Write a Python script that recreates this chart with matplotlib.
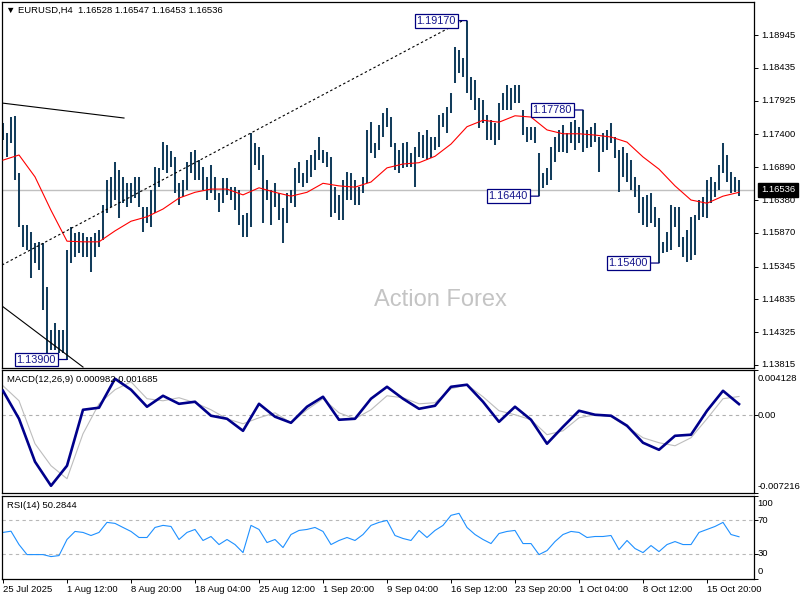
import matplotlib
matplotlib.use("Agg")
import matplotlib.pyplot as plt
import numpy as np

plt.rcParams['font.family'] = ['Liberation Sans', 'DejaVu Sans']

# ---------------- data (H4 bars, every second bar) ----------------
highs = [1.1758, 1.1742, 1.1767, 1.1769, 1.1680, 1.1599, 1.1599, 1.1588, 1.1571, 1.1573,
         1.1571, 1.1503, 1.1436, 1.1447, 1.1436, 1.1436, 1.1560, 1.1596, 1.1587, 1.1588,
         1.1587, 1.1580, 1.1580, 1.1587, 1.1591, 1.1630, 1.1669, 1.1674, 1.1697, 1.1685,
         1.1674, 1.1665, 1.1665, 1.1674, 1.1674, 1.1627, 1.1627, 1.1654, 1.1689, 1.1688,
         1.1728, 1.1723, 1.1714, 1.1705, 1.1665, 1.1669, 1.1697, 1.1713, 1.1716, 1.1700,
         1.1689, 1.1674, 1.1692, 1.1674, 1.1649, 1.1672, 1.1672, 1.1658, 1.1658, 1.1654,
         1.1615, 1.1618, 1.1742, 1.1727, 1.1720, 1.1708, 1.1669, 1.1654, 1.1665, 1.1649,
         1.1625, 1.1649, 1.1654, 1.1688, 1.1697, 1.1680, 1.1700, 1.1708, 1.1716, 1.1736,
         1.1716, 1.1713, 1.1705, 1.1658, 1.1646, 1.1669, 1.1682, 1.1680, 1.1669, 1.1658,
         1.1674, 1.1747, 1.1759, 1.1727, 1.1755, 1.1773, 1.1781, 1.1767, 1.1727, 1.1716,
         1.1727, 1.1728, 1.1711, 1.1720, 1.1744, 1.1739, 1.1747, 1.1736, 1.1736, 1.1770,
         1.1773, 1.1783, 1.1804, 1.1876, 1.1871, 1.1859, 1.1917, 1.1829, 1.1825, 1.1797,
         1.1794, 1.1770, 1.1762, 1.1758, 1.1789, 1.1804, 1.1817, 1.1812, 1.1817, 1.1817,
         1.1778, 1.1752, 1.1752, 1.1752, 1.1711, 1.1680, 1.1688, 1.1720, 1.1736, 1.1747,
         1.1755, 1.1742, 1.1759, 1.1762, 1.1752, 1.1778, 1.1747, 1.1752, 1.1758, 1.1736,
         1.1742, 1.1747, 1.1758, 1.1736, 1.1716, 1.1720, 1.1711, 1.1700, 1.1674, 1.1661,
         1.1643, 1.1646, 1.1649, 1.1627, 1.1610, 1.1573, 1.1588, 1.1630, 1.1627, 1.1627,
         1.1580, 1.1591, 1.1612, 1.1615, 1.1638, 1.1643, 1.1669, 1.1674, 1.1666, 1.1692,
         1.1727, 1.1708, 1.1682, 1.1674, 1.1669]
lows = [1.1731, 1.1705, 1.1727, 1.1669, 1.1596, 1.1565, 1.1560, 1.1517, 1.1540, 1.1529,
        1.1467, 1.1400, 1.1405, 1.1405, 1.1400, 1.1400, 1.1390, 1.1540, 1.1549, 1.1556,
        1.1549, 1.1549, 1.1526, 1.1549, 1.1565, 1.1576, 1.1618, 1.1627, 1.1638, 1.1610,
        1.1633, 1.1627, 1.1633, 1.1641, 1.1627, 1.1588, 1.1602, 1.1596, 1.1618, 1.1658,
        1.1685, 1.1680, 1.1689, 1.1649, 1.1630, 1.1643, 1.1654, 1.1680, 1.1669, 1.1669,
        1.1654, 1.1638, 1.1649, 1.1638, 1.1619, 1.1633, 1.1646, 1.1638, 1.1622, 1.1599,
        1.1581, 1.1581, 1.1596, 1.1692, 1.1685, 1.1602, 1.1638, 1.1599, 1.1627, 1.1607,
        1.1571, 1.1602, 1.1633, 1.1627, 1.1664, 1.1658, 1.1664, 1.1674, 1.1685, 1.1700,
        1.1696, 1.1689, 1.1612, 1.1618, 1.1607, 1.1607, 1.1638, 1.1638, 1.1630, 1.1630,
        1.1649, 1.1664, 1.1711, 1.1703, 1.1716, 1.1736, 1.1752, 1.1720, 1.1685, 1.1680,
        1.1688, 1.1689, 1.1689, 1.1658, 1.1705, 1.1703, 1.1700, 1.1703, 1.1716, 1.1720,
        1.1752, 1.1742, 1.1773, 1.1820, 1.1835, 1.1829, 1.1804, 1.1794, 1.1778, 1.1750,
        1.1758, 1.1731, 1.1731, 1.1723, 1.1731, 1.1778, 1.1778, 1.1778, 1.1789, 1.1789,
        1.1739, 1.1728, 1.1731, 1.1727, 1.1644, 1.1657, 1.1661, 1.1669, 1.1697, 1.1713,
        1.1713, 1.1711, 1.1727, 1.1716, 1.1727, 1.1713, 1.1719, 1.1720, 1.1728, 1.1682,
        1.1713, 1.1716, 1.1727, 1.1703, 1.1650, 1.1674, 1.1666, 1.1654, 1.1643, 1.1618,
        1.1599, 1.1596, 1.1602, 1.1596, 1.1540, 1.1556, 1.1557, 1.1560, 1.1596, 1.1565,
        1.1549, 1.1541, 1.1545, 1.1553, 1.1607, 1.1612, 1.1610, 1.1633, 1.1643, 1.1654,
        1.1680, 1.1666, 1.1649, 1.1650, 1.1645]

# moving average, MACD main / signal: one value every 4 plotted bars
ma_values = [1.1700, 1.1708, 1.1674, 1.1622, 1.1574, 1.1573, 1.1573, 1.1590, 1.1605, 1.1612,
             1.1624, 1.1641, 1.1650, 1.1655, 1.1655, 1.1646, 1.1657, 1.1650, 1.1644, 1.1650,
             1.1664, 1.1660, 1.1658, 1.1666, 1.1688, 1.1694, 1.1696, 1.1706, 1.1725, 1.1752,
             1.1762, 1.1759, 1.1769, 1.1767, 1.1747, 1.1741, 1.1741, 1.1739, 1.1736, 1.1728,
             1.1705, 1.1686, 1.1660, 1.1638, 1.1633, 1.1644, 1.1650]
macd_main = [0.00221, -0.00037, -0.00433, -0.00655, -0.00470, 0.00046, 0.00065, 0.00332, 0.00231, 0.00074,
             0.00175, 0.00101, 0.00120, -0.00009, -0.00037, -0.00148, 0.00101, -0.00018, -0.00074, 0.00074,
             0.00166, -0.00046, -0.00037, 0.00148, 0.00258, 0.00148, 0.00055, 0.00083, 0.00258, 0.00277,
             0.00120, -0.00065, 0.00074, -0.00046, -0.00267, -0.00111, 0.00037, 0.00000, -0.00009, -0.00101,
             -0.00258, -0.00323, -0.00194, -0.00184, 0.00037, 0.00221, 0.000982]
macd_signal = [0.00267, 0.00129, -0.00267, -0.00470, -0.00590, -0.00175, 0.00101, 0.00231, 0.00304, 0.00148,
               0.00129, 0.00157, 0.00111, 0.00046, -0.00037, -0.00083, -0.00028, 0.00018, -0.00074, 0.00046,
               0.00148, 0.00018, -0.00037, 0.00046, 0.00175, 0.00157, 0.00101, 0.00111, 0.00240, 0.00277,
               0.00166, 0.00037, 0.00000, -0.00046, -0.00184, -0.00148, -0.00028, 0.00000, -0.00018, -0.00111,
               -0.00212, -0.00258, -0.00286, -0.00212, -0.00037, 0.00148, 0.001685]
# RSI: one value every 2 plotted bars
rsi_values = [55.5, 57.0, 40.9, 28.8, 28.8, 28.8, 26.4, 27.6, 47.0, 56.7,
              55.5, 51.8, 55.5, 67.6, 66.4, 61.5, 56.7, 49.4, 49.4, 61.5,
              64.0, 62.7, 47.0, 55.5, 59.1, 45.8, 50.6, 40.9, 47.0, 40.9,
              31.2, 64.0, 59.1, 43.3, 47.0, 37.3, 53.0, 57.9, 59.1, 61.5,
              56.7, 40.9, 45.8, 49.4, 45.8, 53.0, 64.0, 67.6, 70.0, 51.8,
              48.2, 45.8, 57.9, 49.4, 57.9, 64.0, 76.1, 78.5, 61.5, 53.0,
              47.0, 42.1, 54.2, 56.7, 57.9, 42.1, 42.1, 28.8, 33.6, 44.5,
              53.0, 56.7, 55.5, 49.4, 50.6, 50.6, 51.8, 34.8, 45.8, 36.1,
              31.2, 39.7, 32.4, 40.9, 44.5, 40.9, 40.9, 55.5, 59.1, 62.7,
              67.6, 53.0, 50.3]

date_labels = ['25 Jul 2025', '1 Aug 12:00', '8 Aug 20:00', '18 Aug 04:00', '25 Aug 12:00',
               '1 Sep 20:00', '9 Sep 04:00', '16 Sep 12:00', '23 Sep 20:00', '1 Oct 04:00',
               '8 Oct 12:00', '15 Oct 20:00']
price_ticks = [1.18945, 1.18435, 1.17925, 1.17400, 1.16890, 1.16380, 1.15870, 1.15345,
               1.14835, 1.14325, 1.13815]
last_price = 1.16536
title_text = '\u25bc EURUSD,H4  1.16528 1.16547 1.16453 1.16536'

# swing labels: (bar, price, text)
swing_labels = [(116, 1.19170, '1.19170'), (145, 1.17780, '1.17780'), (134, 1.16440, '1.16440'),
                (164, 1.15400, '1.15400'), (16, 1.13900, '1.13900')]
# trend lines: (bar0, price0, bar1, price1, style)
trend_lines = [(-0.25, 1.17888, 30.25, 1.17655, '-'),
               (-0.25, 1.14732, 20.0, 1.13783, '-'),
               (-0.25, 1.15369, 114.75, 1.19163, 'dot')]

# ---------------- layout ----------------
W, H = 800, 600
fig = plt.figure(figsize=(8, 6), dpi=100)


def rect(x0, y0, x1, y1):
    return [x0 / W, 1 - y1 / H, (x1 - x0) / W, (y1 - y0) / H]


ax_p = fig.add_axes(rect(2, 2, 754, 368))
ax_m = fig.add_axes(rect(2, 370, 754, 493))
ax_r = fig.add_axes(rect(2, 495.5, 754, 578.5))

n = len(highs)
idx = np.arange(n)
xlim = (-0.25, 187.75)
FS = 6.8
bar_col = '#133d5c'

for ax in (ax_p, ax_m, ax_r):
    ax.set_xlim(*xlim)
    for s in ax.spines.values():
        s.set_linewidth(0.9)
        s.set_color('black')
    ax.yaxis.tick_right()
    ax.tick_params(axis='y', direction='out', length=3, width=0.7, labelright=False, labelleft=False)
    ax.set_facecolor('white')

# price panel
ax_p.set_ylim(1.13768, 1.19459)
ax_p.set_xticks([])
ax_p.axhline(last_price, color='#c0c0c0', lw=1.0, zorder=1)
ax_p.vlines(idx, lows, highs, colors=bar_col, lw=1.45, zorder=2)
ma_idx = np.arange(0, n, 4)
ax_p.plot(ma_idx, ma_values, color='#ff0000', lw=0.8, zorder=3)
for x0, y0, x1, y1, st in trend_lines:
    if st == 'dot':
        ax_p.plot([x0, x1], [y0, y1], color='black', lw=0.8, linestyle=(0, (2.2, 2.2)), zorder=3)
    else:
        ax_p.plot([x0, x1], [y0, y1], color='black', lw=0.8, zorder=3)
ax_p.set_yticks(price_ticks)
for v in price_ticks:
    ax_p.annotate('%.5f' % v, xy=(1, v), xycoords=('axes fraction', 'data'),
                  xytext=(5, 0), textcoords='offset points', ha='left', va='center',
                  fontsize=FS, annotation_clip=False)
ax_p.annotate('%.5f' % last_price, xy=(1, last_price), xycoords=('axes fraction', 'data'),
              xytext=(5, 0), textcoords='offset points', ha='left', va='center',
              fontsize=FS, color='white', annotation_clip=False,
              bbox=dict(boxstyle='square,pad=0.28', fc='black', ec='black'))
for b, p, t in swing_labels:
    ax_p.annotate(t, xy=(b, p), xytext=(-8, 0), textcoords='offset points',
                  ha='right', va='center', fontsize=7.8, color='#15158c',
                  bbox=dict(boxstyle='square,pad=0.18', fc='white', ec='#000080', lw=0.9),
                  arrowprops=dict(arrowstyle='-', color='#000080', lw=0.9, shrinkA=0, shrinkB=0),
                  zorder=5)
ax_p.text((440 - 2) / 752, (368 - 300) / 366, 'Action Forex', transform=ax_p.transAxes,
          ha='center', va='center', fontsize=17, color='#c4c4c4', zorder=0)
fig.text(6 / W, 1 - 10 / H, title_text, fontsize=FS, va='center', ha='left')

# MACD panel
ax_m.set_ylim(-0.007216, 0.004128)
ax_m.set_xticks([])
ax_m.axhline(0, color='#b0b0b0', lw=0.8, linestyle=(0, (3, 3)), zorder=1)
ax_m.plot(ma_idx, macd_signal, color='#bdbdbd', lw=0.8, zorder=2)
ax_m.plot(ma_idx, macd_main, color='#00008b', lw=1.9, zorder=3)
ax_m.set_yticks([0.004128, 0.0, -0.007216])
for v, t, dy in [(0.004128, '0.004128', -6), (0.0, '0.00', -0.8), (-0.007216, '-0.007216', 5)]:
    ax_m.annotate(t, xy=(1, v), xycoords=('axes fraction', 'data'), xytext=(2.6, dy),
                  textcoords='offset points', ha='left', va='center', fontsize=FS,
                  annotation_clip=False)
ax_m.text(5 / 752, (493 - 379) / 123, 'MACD(12,26,9) 0.000982 0.001685', transform=ax_m.transAxes,
          fontsize=FS, va='center', ha='left')

# RSI panel
ax_r.set_ylim(0, 100)
rsi_idx = np.arange(0, n, 2)
for lev in (70, 30):
    ax_r.axhline(lev, color='#b8b8b8', lw=0.8, linestyle=(0, (3, 3)), zorder=1)
ax_r.plot(rsi_idx, rsi_values, color='#1e90ff', lw=0.8, zorder=2)
ax_r.set_yticks([100, 70, 30, 0])
for v, t, dy in [(100, '100', -5.5), (70, '70', 0), (30, '30', 0), (0, '0', 4.8)]:
    ax_r.annotate(t, xy=(1, v), xycoords=('axes fraction', 'data'), xytext=(2.6, dy),
                  textcoords='offset points', ha='left', va='center', fontsize=FS,
                  annotation_clip=False)
ax_r.text(5 / 752, (578.5 - 505) / 83, 'RSI(14) 50.2844', transform=ax_r.transAxes,
          fontsize=FS, va='center', ha='left')
ax_r.set_xticks(np.arange(0, 16 * len(date_labels), 16))
ax_r.set_xticklabels(date_labels, ha='left', fontsize=FS)
ax_r.tick_params(axis='x', direction='out', length=3, width=0.7, pad=2)

fig.savefig('out.png', dpi=100)
